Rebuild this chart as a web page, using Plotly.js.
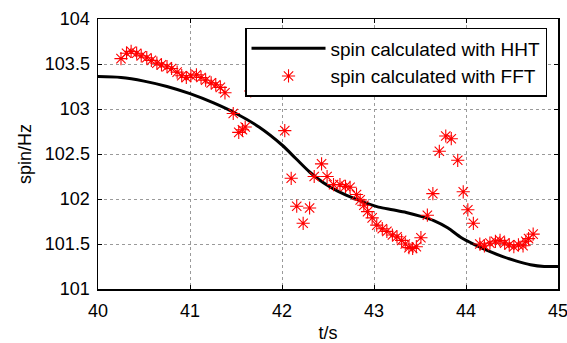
<!DOCTYPE html>
<html>
<head>
<meta charset="utf-8">
<script src="https://cdn.plot.ly/plotly-3.0.1.min.js"></script>
<style>html,body{margin:0;padding:0;background:#fff;}#chart{width:567px;height:343px;}</style>
</head>
<body>
<div id="chart"></div>
<script>
// HHT curve (t in s, spin in Hz)
const hhtT = [40.0, 40.25, 40.5, 40.75, 41.0, 41.25, 41.5, 41.75, 42.0, 42.15, 42.3, 42.45, 42.6, 42.75, 42.9, 43.05, 43.2, 43.35, 43.5, 43.65, 43.8, 43.95, 44.1, 44.25, 44.4, 44.55, 44.7, 44.85, 45.0];
const hhtSpin = [103.36, 103.35, 103.31, 103.25, 103.17, 103.07, 102.95, 102.80, 102.60, 102.45, 102.30, 102.18, 102.09, 102.02, 101.96, 101.91, 101.88, 101.85, 101.81, 101.76, 101.68, 101.57, 101.49, 101.42, 101.36, 101.31, 101.27, 101.25, 101.25];

// FFT estimates
const fftT = [40.25, 40.31, 40.36, 40.42, 40.47, 40.53, 40.58, 40.64, 40.69, 40.75, 40.80, 40.86, 40.91, 40.96, 41.01, 41.07, 41.12, 41.17, 41.23, 41.28, 41.33, 41.38,
  41.47, 41.53, 41.57, 41.60, 41.66, 42.03, 42.10, 42.16, 42.23, 42.30, 42.35, 42.43, 42.49,
  42.56, 42.63, 42.69, 42.74, 42.81, 42.85, 42.89, 42.93, 42.98, 43.03, 43.09, 43.14, 43.20, 43.25, 43.30, 43.34, 43.38, 43.42, 43.46,
  43.51, 43.58, 43.64, 43.71, 43.78, 43.84, 43.91, 43.97, 44.02, 44.08,
  44.15, 44.20, 44.26, 44.32, 44.37, 44.42, 44.47, 44.52, 44.57, 44.62, 44.65, 44.68, 44.73];
const fftSpin = [103.56, 103.62, 103.64, 103.62, 103.59, 103.57, 103.54, 103.51, 103.49, 103.47, 103.45, 103.41, 103.37, 103.35, 103.37, 103.38, 103.35, 103.32, 103.29, 103.27, 103.24, 103.18,
  102.95, 102.74, 102.77, 102.80, 103.20, 102.76, 102.23, 101.92, 101.73, 101.90, 102.25, 102.39, 102.25,
  102.16, 102.16, 102.14, 102.13, 102.05, 101.99, 101.93, 101.86, 101.79, 101.71, 101.67, 101.64, 101.60, 101.58, 101.54, 101.50, 101.46, 101.45, 101.47,
  101.57, 101.82, 102.06, 102.53, 102.70, 102.67, 102.43, 102.08, 101.88, 101.73,
  101.50, 101.48, 101.51, 101.53, 101.54, 101.51, 101.49, 101.47, 101.49, 101.48, 101.53, 101.56, 101.61];

const xTicks = [40, 41, 42, 43, 44, 45];
const yTicks = [101, 101.5, 102, 102.5, 103, 103.5, 104];

const FONT = 'Liberation Sans, Arial, sans-serif';

const traces = [
  {
    x: hhtT, y: hhtSpin, type: 'scatter', mode: 'lines',
    name: 'spin calculated with HHT',
    line: {color: '#000000', width: 3, shape: 'spline', smoothing: 0.8},
    legendgroup: 'a', cliponaxis: false
  },
  {
    x: fftT, y: fftSpin, type: 'scatter', mode: 'markers',
    name: 'spin calculated with FFT',
    marker: {symbol: 'asterisk-open', size: 11, color: '#ff0000', line: {color: '#ff0000', width: 1.1}},
    legendgroup: 'b'
  }
];

const axisCommon = {
  showline: true, linecolor: '#000000', linewidth: 1.5, mirror: 'ticks',
  ticks: 'inside', ticklen: 4, tickwidth: 1, tickcolor: '#000000',
  showgrid: true, gridcolor: '#9a9a9a', gridwidth: 1, griddash: 'dot',
  zeroline: false, ticklabeloverflow: 'allow',
  tickfont: {family: FONT, size: 18, color: '#000000'}
};

const layout = {
  width: 567, height: 343,
  margin: {l: 98, r: 9, t: 19, b: 54},
  paper_bgcolor: '#ffffff', plot_bgcolor: '#ffffff',
  font: {family: FONT, size: 18, color: '#000000'},
  xaxis: Object.assign({}, axisCommon, {
    range: [40, 45], tickvals: xTicks, ticktext: xTicks.map(String),
    ticklabelstandoff: 5,
    title: {text: 't/s', font: {family: FONT, size: 18}, standoff: 8}
  }),
  yaxis: Object.assign({}, axisCommon, {
    range: [101, 104], tickvals: yTicks, ticktext: yTicks.map(String),
    ticklabelstandoff: 3,
    title: {text: 'spin/Hz', font: {family: FONT, size: 18}, standoff: 8}
  }),
  showlegend: true,
  legend: {
    x: 0.3196, y: 0.967, xanchor: 'left', yanchor: 'top',
    bgcolor: '#ffffff', bordercolor: '#000000', borderwidth: 1.5,
    font: {family: FONT, size: 19, color: '#000000'},
    itemwidth: 74, traceorder: 'grouped', tracegroupgap: 0
  }
};

Plotly.newPlot('chart', traces, layout, {displayModeBar: false, staticPlot: true});
</script>
</body>
</html>
